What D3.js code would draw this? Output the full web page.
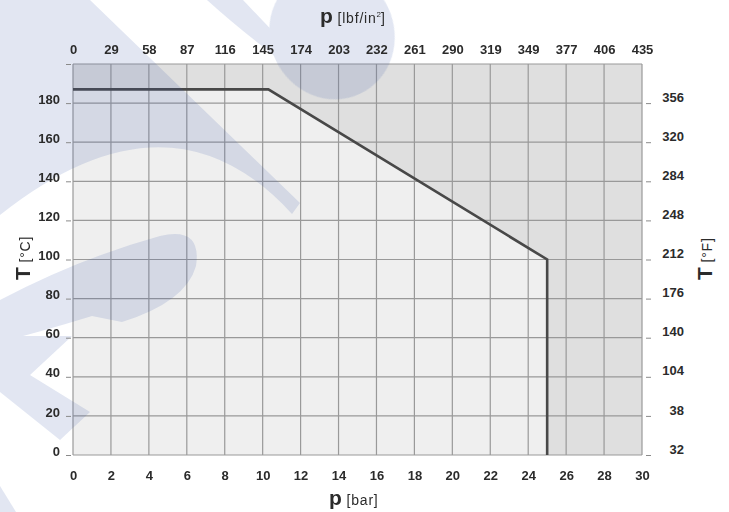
<!DOCTYPE html>
<html>
<head>
<meta charset="utf-8">
<script src="https://cdn.jsdelivr.net/npm/d3@7"></script>
<style>
	body { margin: 0; background: #fff; }
	svg { display: block; font-family: "Liberation Sans", Arial, sans-serif; }
	.tick text { font-size: 13px; font-weight: bold; fill: #2b2b2b; }
</style>
</head>
<body>
<svg width="729" height="512"></svg>
<script>
// pressure ticks (bar) and their psi labels on the top axis
const barTicks = [0, 2, 4, 6, 8, 10, 12, 14, 16, 18, 20, 22, 24, 26, 28, 30];
const psiLabels = ["0", "29", "58", "87", "116", "145", "174", "203", "232", "261", "290", "319", "349", "377", "406", "435"];

// temperature ticks (°C) and the °F labels printed on the right
const celsiusTicks = [0, 20, 40, 60, 80, 100, 120, 140, 160, 180, 200];
const fahrenheitLabels = ["32", "38", "104", "140", "176", "212", "248", "284", "320", "356"];

// limit curve: pressure (bar) vs temperature (°C)
const limitP = [0, 10.3, 25, 25];
const limitT = [187, 187, 100, 0];

// logo watermark in the background (decoration only)
const watermark = [
	"M0,0 L90,0 L300,203 L292,214 Q170,80 0,215 Z",
	"M207,0 L243,0 L300,60 L288,66 Q240,30 207,0 Z",
	"M0,300 Q80,258 160,236 Q202,226 196,266 Q186,302 122,322 L92,316 Q40,332 0,342 Z",
	"M0,336 L72,336 L30,375 L90,412 L60,440 L0,392 Z",
	"M0,486 L16,512 L0,512 Z"
];

const svg = d3.select("svg");
const x = d3.scaleLinear().domain([0, 30]).range([73, 642]);
const y = d3.scaleLinear().domain([0, 200]).range([455, 64]);

const plot = svg.append("g");

// outer (not allowed) area
plot.append("rect")
	.attr("x", x(0)).attr("y", y(200))
	.attr("width", x(30) - x(0)).attr("height", y(0) - y(200))
	.attr("fill", "#dfdfdf");

// allowed area under the limit curve
const pts = limitP.map((p, i) => [p, limitT[i]]);
const area = pts.concat([[0, 0]]);
plot.append("path")
	.attr("d", d3.line().x(d => x(d[0])).y(d => y(d[1]))(area) + "Z")
	.attr("fill", "#efefef");

// grid
plot.selectAll(".vgrid").data(barTicks).join("line")
	.attr("x1", d => x(d)).attr("x2", d => x(d))
	.attr("y1", y(0)).attr("y2", y(200))
	.attr("stroke", "#999").attr("stroke-width", 1.2);

plot.selectAll(".hgrid").data(celsiusTicks).join("line")
	.attr("x1", x(0)).attr("x2", x(30))
	.attr("y1", d => y(d)).attr("y2", d => y(d))
	.attr("stroke", "#999").attr("stroke-width", 1.2);

// limit line
plot.append("path")
	.attr("d", d3.line().x(d => x(d[0])).y(d => y(d[1]))(pts))
	.attr("fill", "none")
	.attr("stroke", "#484848")
	.attr("stroke-width", 2.6)
	.attr("stroke-linejoin", "miter");

// watermark
const wm = svg.append("g").attr("opacity", 0.15);
wm.selectAll("path").data(watermark).join("path")
	.attr("d", d => d)
	.attr("fill", "#3c5aaa");

wm.append("ellipse")
	.attr("cx", 332).attr("cy", 34).attr("rx", 62).attr("ry", 66)
	.attr("transform", "rotate(-25,332,34)")
	.attr("fill", "#3c5aaa");

// axes
const gLeft = svg.append("g")
	.attr("transform", "translate(71,0)")
	.call(d3.axisLeft(y).tickValues(celsiusTicks).tickSize(5).tickPadding(6)
		.tickFormat(d => d === 200 ? "" : d));

const gRight = svg.append("g")
	.attr("transform", "translate(646,0)")
	.call(d3.axisRight(y).tickValues(celsiusTicks.slice(0, 10)).tickSize(5)
		.tickFormat((d, i) => fahrenheitLabels[i]));
gRight.selectAll(".tick text").attr("text-anchor", "end").attr("x", 38);

const gTop = svg.append("g")
	.attr("transform", `translate(0,${y(200)})`)
	.call(d3.axisTop(x).tickValues(barTicks).tickSize(0).tickPadding(10)
		.tickFormat((d, i) => psiLabels[i]));

const gBottom = svg.append("g")
	.attr("transform", `translate(0,${y(0)})`)
	.call(d3.axisBottom(x).tickValues(barTicks).tickSize(0).tickPadding(16));

[gLeft, gRight, gTop, gBottom].forEach(g => {
	g.select(".domain").remove();
	g.selectAll(".tick line").attr("stroke", "#8a8a8a");
	g.attr("font-family", null).attr("font-size", null);
});
gLeft.selectAll(".tick text").attr("y", -4);
gRight.selectAll(".tick text").attr("y", -6);

// axis titles
function title(t, big, rest, sup, tail) {
	t.append("tspan").attr("font-size", 21).attr("font-weight", "bold").text(big);
	t.append("tspan").attr("font-size", 14).attr("letter-spacing", 0.8).text(" " + rest);
	if (sup) {
		t.append("tspan").attr("font-size", 8).attr("dy", -6).text(sup);
		t.append("tspan").attr("font-size", 14).attr("dy", 6).text(tail);
	}
	return t;
}

title(svg.append("text").attr("x", 320).attr("y", 23).attr("fill", "#2b2b2b"), "p", "[lbf/in", "2", "]");
title(svg.append("text").attr("x", 329).attr("y", 505).attr("fill", "#2b2b2b"), "p", "[bar]");
title(svg.append("text").attr("transform", "translate(30,280) rotate(-90)").attr("fill", "#2b2b2b"), "T", "[°C]");
title(svg.append("text").attr("transform", "translate(712,280) rotate(-90)").attr("fill", "#2b2b2b"), "T", "[°F]");
</script>
</body>
</html>
